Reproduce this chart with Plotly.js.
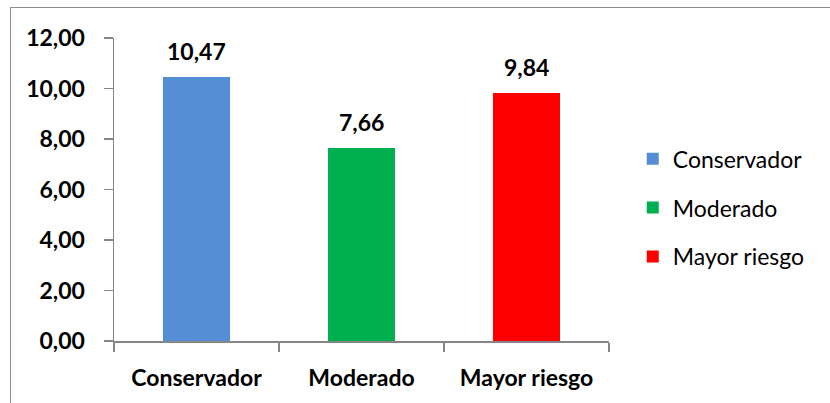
<!DOCTYPE html>
<html>
<head>
<meta charset="utf-8">
<script src="https://cdn.plot.ly/plotly-3.0.1.min.js"></script>
<style>
html,body{margin:0;padding:0;background:#fff;}
#wrap{position:relative;width:830px;height:403px;overflow:hidden;}
#frame{position:absolute;left:10px;top:7px;width:840px;height:420px;border:1.5px solid #8c8c8c;box-sizing:border-box;pointer-events:none;}
#chart{position:absolute;left:0;top:0;width:830px;height:403px;}
</style>
</head>
<body>
<div id="wrap">
<div id="chart"></div>
<div id="frame"></div>
</div>
<script>
const categories = ["Conservador", "Moderado", "Mayor riesgo"];
const values = [10.47, 7.66, 9.84];
const colors = ["#558ED5", "#00B050", "#FF0000"];
const yTicks = [0, 2, 4, 6, 8, 10, 12];

const fontFam = "Lato, 'Open Sans', sans-serif";

const traces = categories.map((c, i) => ({
  type: "bar",
  name: c,
  x: [c],
  y: [values[i]],
  marker: {color: colors[i]},
  legendgroup: "g" + i,
  hoverinfo: "none"
}));

const annotations = categories.map((c, i) => ({
  x: c, y: values[i], xref: "x", yref: "y",
  text: "<b>" + values[i].toFixed(2).replace(".", ",") + "</b>",
  showarrow: false, yanchor: "bottom", yshift: 10,
  font: {family: fontFam, size: 23, color: "#000"}
}));

const layout = {
  width: 830, height: 403,
  margin: {l: 114, r: 221, t: 38, b: 62},
  paper_bgcolor: "#fff", plot_bgcolor: "#fff",
  separators: ",.",
  barmode: "stack",
  bargap: 0.59,
  showlegend: true,
  legend: {
    x: 1.048, y: 0.44, xanchor: "left", yanchor: "middle",
    font: {family: fontFam, size: 23, color: "#000"},
    tracegroupgap: 16, traceorder: "grouped",
    bgcolor: "rgba(0,0,0,0)"
  },
  xaxis: {
    type: "category",
    categoryorder: "array", categoryarray: categories,
    showline: true, linecolor: "#868686", linewidth: 1.5,
    ticks: "outside", tickson: "boundaries", ticklen: 9, tickcolor: "#868686", tickwidth: 1.5,
    tickfont: {family: fontFam, size: 23, color: "#000", weight: "bold"},
    showgrid: false, zeroline: false,
    ticklabelstandoff: 16
  },
  yaxis: {
    range: [0, 12],
    tickvals: yTicks,
    tickformat: ".2f",
    showline: true, linecolor: "#868686", linewidth: 1.5,
    ticks: "outside", ticklen: 9, tickcolor: "#868686", tickwidth: 1.5,
    tickfont: {family: fontFam, size: 23, color: "#000", weight: "bold"},
    showgrid: false, zeroline: false,
    ticklabelstandoff: 14
  },
  annotations: annotations
};

Plotly.newPlot("chart", traces, layout, {staticPlot: true, displayModeBar: false});
</script>
</body>
</html>
